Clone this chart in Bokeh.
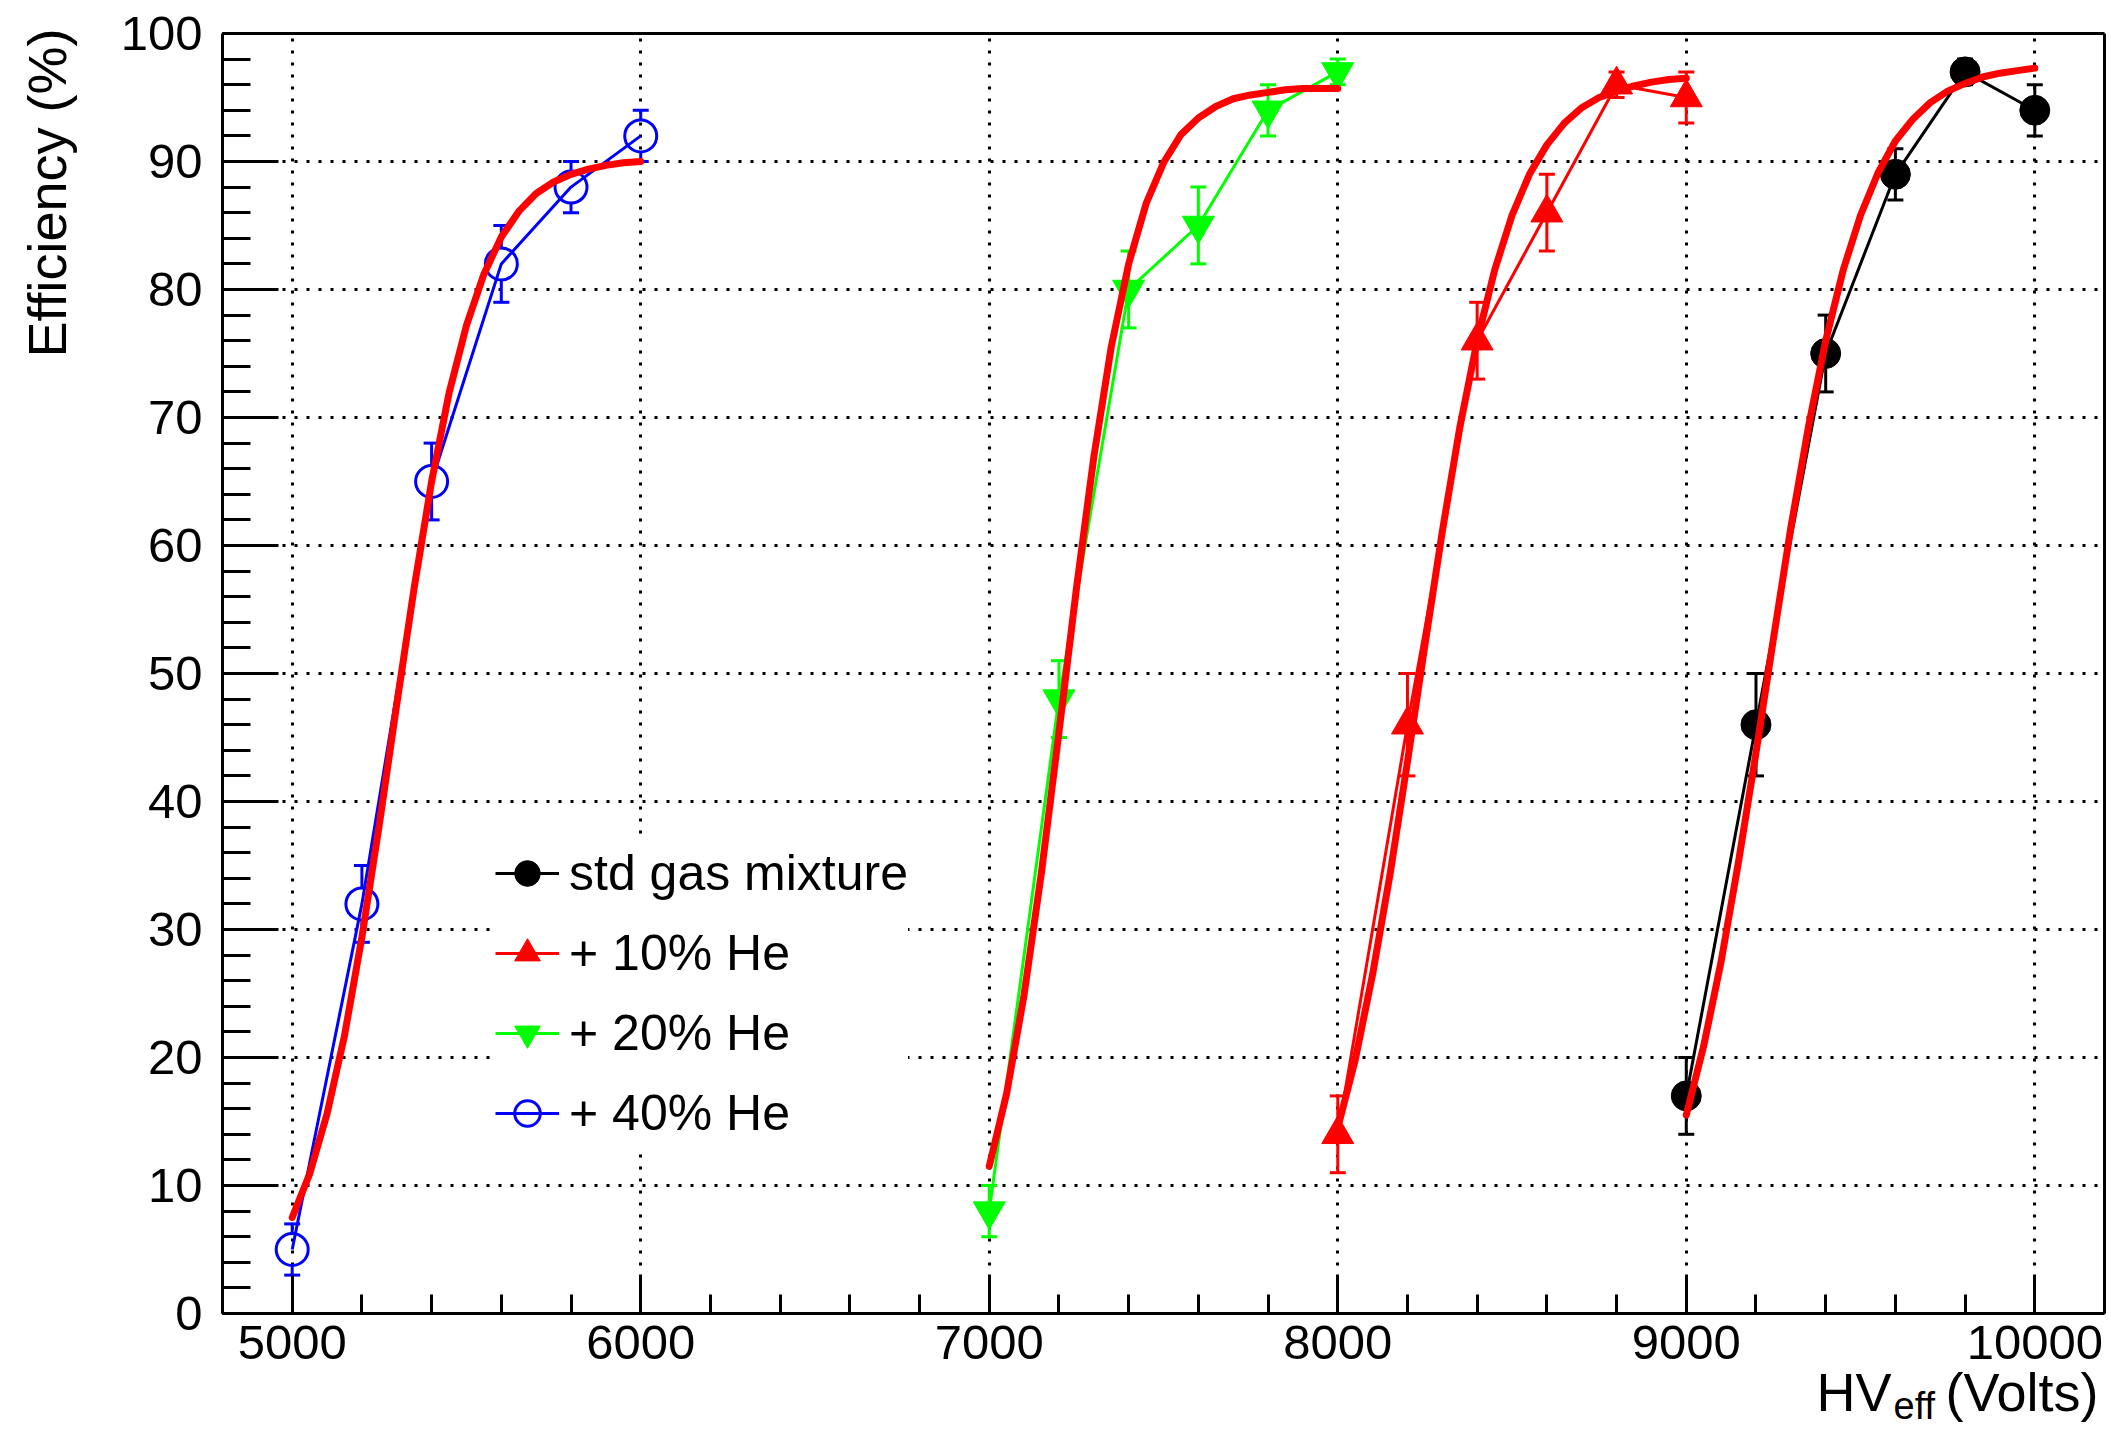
import numpy as np
from bokeh.plotting import figure
from bokeh.models import (Range1d, SingleIntervalTicker, FixedTicker, LinearAxis,
                          Whisker, TeeHead, ColumnDataSource, Legend, LegendItem,
                          Label)
from bokeh.embed import file_html
from bokeh.resources import INLINE

# ---------------- data ----------------
hv_std = [9000, 9200, 9400, 9600, 9800, 10000]
eff_std = [17, 46, 75, 89, 97, 94]
err_std = [3, 4, 3, 2, 1, 2]

hv_he10 = [8000, 8200, 8400, 8600, 8800, 9000]
eff_he10 = [14, 46, 76, 86, 96, 95]
err_he10 = [3, 4, 3, 3, 1, 2]

hv_he20 = [7000, 7200, 7400, 7600, 7800, 8000]
eff_he20 = [8, 48, 80, 85, 94, 97]
err_he20 = [2, 3, 3, 3, 2, 1]

hv_he40 = [5000, 5200, 5400, 5600, 5800, 6000]
eff_he40 = [5, 32, 65, 82, 88, 92]
err_he40 = [2, 3, 3, 3, 2, 2]

# fitted curves (red), read every 50 V over each scan
fitx_he40 = list(range(5000, 6001, 50))
fit_he40 = [7.5, 10.9, 15.6, 21.7, 29.4, 38.2, 47.6, 56.7, 65.0, 71.9, 77.2,
            81.2, 84.1, 86.1, 87.5, 88.4, 89.0, 89.4, 89.7, 89.9, 90.0]
fitx_he20 = list(range(7000, 8001, 50))
fit_he20 = [11.5, 17.2, 24.9, 34.5, 45.4, 56.6, 66.9, 75.5, 82.0, 86.7, 89.9,
            92.1, 93.4, 94.3, 94.9, 95.2, 95.4, 95.6, 95.7, 95.7, 95.7]
fitx_he10 = list(range(8000, 9001, 50))
fit_he10 = [14.5, 19.8, 26.5, 34.3, 43.1, 52.2, 61.1, 69.2, 76.0, 81.5, 85.8,
            89.0, 91.3, 93.0, 94.2, 95.0, 95.5, 95.9, 96.2, 96.4, 96.5]
fitx_std = list(range(9000, 10001, 50))
fit_std = [15.5, 20.9, 27.5, 35.3, 43.8, 52.7, 61.4, 69.2, 76.0, 81.5, 85.8,
           89.1, 91.6, 93.3, 94.6, 95.5, 96.1, 96.6, 96.9, 97.1, 97.3]

labels = ["std gas mixture", "+ 10% He", "+ 20% He", "+ 40% He"]
x_axis_min, x_axis_max, x_tick_step = 4800, 10200, 1000
y_axis_min, y_axis_max, y_tick_step = 0, 100, 10

# ---------------- layout (pixels on the canvas) ----------------
FONT = "Liberation Sans"
W, H = 2108, 1428
BOX_L, BOX_R, BOX_T, BOX_B = 222, 2104, 33, 1313   # data box in canvas pixels

sx = (BOX_R - BOX_L) / (x_axis_max - x_axis_min)
sy = (BOX_B - BOX_T) / (y_axis_max - y_axis_min)
x_start = x_axis_min - BOX_L / sx
x_end = x_axis_max + (W - BOX_R) / sx
y_start = y_axis_min - (H - BOX_B) / sy
y_end = y_axis_max + BOX_T / sy

p = figure(width=W, height=H, output_backend="svg", toolbar_location=None,
           x_range=Range1d(x_start, x_end), y_range=Range1d(y_start, y_end),
           min_border=0)
p.background_fill_color = "white"
p.border_fill_color = "white"
p.outline_line_color = None

xa = p.xaxis[0]
ya = p.yaxis[0]
xa.fixed_location = y_axis_min
ya.fixed_location = x_axis_min
xa.bounds = (x_axis_min, x_axis_max)
ya.bounds = (y_axis_min, y_axis_max)
xa.ticker = SingleIntervalTicker(interval=x_tick_step, num_minor_ticks=5)
ya.ticker = SingleIntervalTicker(interval=y_tick_step, num_minor_ticks=5)
for ax in (xa, ya):
    ax.axis_line_width = 3
    ax.axis_line_color = "black"
    ax.major_tick_line_width = 3
    ax.minor_tick_line_width = 3
    ax.major_tick_line_color = "black"
    ax.minor_tick_line_color = "black"
    ax.major_tick_out = 0
    ax.minor_tick_out = 0
    ax.major_label_text_font = FONT
    ax.major_label_text_font_size = "49px"
    ax.major_label_text_color = "black"
xa.major_tick_in = 38
xa.minor_tick_in = 19
ya.major_tick_in = 56
ya.minor_tick_in = 28
xa.major_label_standoff = 12
ya.major_label_standoff = 20

# top and right sides of the box
top_ax = LinearAxis(fixed_location=y_axis_max, bounds=(x_axis_min, x_axis_max),
                    ticker=FixedTicker(ticks=[]), axis_line_width=3,
                    axis_line_color="black", major_label_text_color=None)
right_ax = LinearAxis(fixed_location=x_axis_max, bounds=(y_axis_min, y_axis_max),
                      ticker=FixedTicker(ticks=[]), axis_line_width=3,
                      axis_line_color="black", major_label_text_color=None)
p.add_layout(top_ax, "above")
p.add_layout(right_ax, "right")

xg = p.xgrid[0]
yg = p.ygrid[0]
xg.bounds = (x_axis_min, x_axis_max)
xg.cross_bounds = (y_axis_min, y_axis_max)
yg.bounds = (y_axis_min, y_axis_max)
yg.cross_bounds = (x_axis_min, x_axis_max)
for g in (xg, yg):
    g.grid_line_color = "black"
    g.grid_line_width = 3
    g.grid_line_dash = "3 9"

series = [
    (hv_std, eff_std, err_std, "black", "circle", True),
    (hv_he10, eff_he10, err_he10, "red", "triangle", True),
    (hv_he20, eff_he20, err_he20, "#00ff00", "inverted_triangle", True),
    (hv_he40, eff_he40, err_he40, "blue", "circle", False),
]
fits = [(fitx_std, fit_std), (fitx_he10, fit_he10),
        (fitx_he20, fit_he20), (fitx_he40, fit_he40)]

items = []
for (hx, ey, er, col, mk, filled), lab in zip(series, labels):
    if mk == "circle":
        size = 30 if filled else 32
    else:
        size = 32
    gap = 0.0 if filled else (size / 2.0) / sy
    src = ColumnDataSource(dict(
        x=hx,
        up_lo=[v + gap for v in ey], up_hi=[v + e for v, e in zip(ey, er)],
        dn_lo=[v - e for v, e in zip(ey, er)], dn_hi=[v - gap for v in ey]))
    p.add_layout(Whisker(source=src, base="x", lower="up_lo", upper="up_hi",
                         dimension="height", line_color=col, line_width=3,
                         lower_head=None,
                         upper_head=TeeHead(size=16, line_color=col, line_width=3)))
    p.add_layout(Whisker(source=src, base="x", lower="dn_lo", upper="dn_hi",
                         dimension="height", line_color=col, line_width=3,
                         upper_head=None,
                         lower_head=TeeHead(size=16, line_color=col, line_width=3)))
    lr = p.line(hx, ey, line_color=col, line_width=3)
    if filled:
        sr = p.scatter(hx, ey, marker=mk, size=size, fill_color=col, line_color=col,
                       line_width=1)
    else:
        sr = p.scatter(hx, ey, marker=mk, size=size, fill_color=None, line_color=col,
                       line_width=3)
    items.append(LegendItem(label=lab, renderers=[lr, sr]))

for fx, fy in fits:
    p.line(fx, fy, line_color="red", line_width=7, line_join="round", line_cap="round")

legend = Legend(items=items, location=(495, 280), orientation="vertical",
                label_text_font=FONT, label_text_font_size="50px",
                label_text_color="black", glyph_width=64, glyph_height=70,
                label_height=70, label_standoff=10, spacing=10, padding=10,
                margin=0, border_line_color=None, background_fill_color="white",
                background_fill_alpha=1.0)
p.add_layout(legend, "center")

# axis titles (ROOT style: aligned to the axis ends); screen units from bottom-left
p.add_layout(Label(x=46, y=H - 28, x_units="screen", y_units="screen",
                   text="Efficiency (%)", angle=np.pi / 2, text_align="right",
                   text_baseline="alphabetic", text_font=FONT,
                   text_font_size="54px", text_color="black"))
p.add_layout(Label(x=1891, y=H - 1391, x_units="screen", y_units="screen",
                   text="HV", text_align="right", text_baseline="alphabetic",
                   text_font=FONT, text_font_size="54px", text_color="black"))
p.add_layout(Label(x=1893, y=H - 1405, x_units="screen", y_units="screen",
                   text="eff", text_align="left", text_baseline="alphabetic",
                   text_font=FONT, text_font_size="38px", text_color="black"))
p.add_layout(Label(x=1945, y=H - 1391, x_units="screen", y_units="screen",
                   text="(Volts)", text_align="left", text_baseline="alphabetic",
                   text_font=FONT, text_font_size="54px", text_color="black"))

open("out.html", "w").write(file_html(p, INLINE))
